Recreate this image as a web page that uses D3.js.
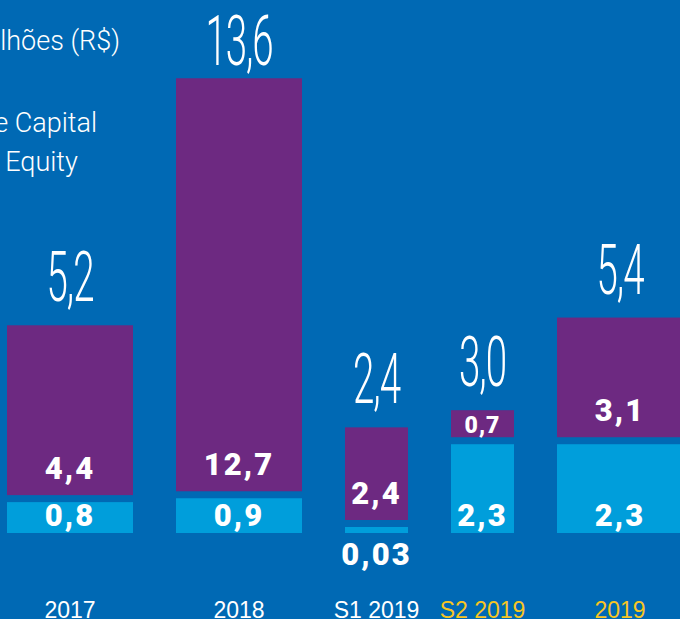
<!DOCTYPE html>
<html><head><meta charset="utf-8">
<script src="https://cdn.jsdelivr.net/npm/d3@7"></script>
<style>
html,body{margin:0;padding:0;background:#0069b4;overflow:hidden;}
svg{display:block;}
</style></head>
<body>
<script>
// ---- data ----
const categories = ["2017", "2018", "S1 2019", "S2 2019", "2019"];
const spans = [2, 2, 1, 1, 2]; // period length in semesters
const privateEquity = [4.4, 12.7, 2.4, 0.7, 3.1];
const ventureCapital = [0.8, 0.9, 0.03, 2.3, 2.3];
const totals = [5.2, 13.6, 2.4, 3.0, 5.4];
const unitLabel = "Em bilhões (R$)";
const seriesNames = ["Venture Capital", "Private Equity"];

// ---- style ----
const W = 680, H = 619;
const C = {bg:"#0069b4", pe:"#6d2981", vc:"#009edb", yellow:"#f7c523", white:"#ffffff"};
const highlighted = new Set(["S2 2019", "2019"]);
const base = 533, stackGap = 7, minH = 6;

const loc = d3.formatLocale({decimal:",", thousands:".", grouping:[3], currency:["R$ ",""]});
const fTot = loc.format(".1f"), fVal = loc.format(".2~f");

const svg = d3.select("body").append("svg").attr("width", W).attr("height", H);
svg.append("rect").attr("width", W).attr("height", H).attr("fill", C.bg);

// x layout: bars proportional to the period length, separated by constant gaps
const gapU = 43 / 63;
const starts = [];
let acc = 0;
spans.forEach((s, i) => { starts.push(acc); acc += s + gapU; });
const totalU = acc - gapU;
const x = d3.scaleLinear().domain([0, totalU]).range([7, 7 + totalU * 63]);

// y: linear per unit, compressed above 5 so the 2018 bar fits
const h = d3.scaleLinear().domain([0, 5, 12.7]).range([0, 193, 413]);

const rows = categories.map((c, i) => {
  const x0 = x(starts[i]), x1 = x(starts[i] + spans[i]);
  const vh = Math.max(h(ventureCapital[i]), minH);
  const vTop = base - vh;
  const pBot = vTop - stackGap;
  const pTop = pBot - h(privateEquity[i]);
  return {c, i, x0, x1, cx:(x0 + x1) / 2, vh, vTop, pBot, pTop,
          pe: privateEquity[i], vc: ventureCapital[i], tot: totals[i]};
});

const g = svg.append("g");
g.selectAll("rect.vc").data(rows).join("rect").attr("class", "vc")
  .attr("x", d => d.x0).attr("width", d => d.x1 - d.x0)
  .attr("y", d => d.vTop).attr("height", d => d.vh).attr("fill", C.vc);
g.selectAll("rect.pe").data(rows).join("rect").attr("class", "pe")
  .attr("x", d => d.x0).attr("width", d => d.x1 - d.x0)
  .attr("y", d => d.pTop).attr("height", d => d.pBot - d.pTop).attr("fill", C.pe);

const boldFont = "Roboto, 'Liberation Sans', Arial, sans-serif";

g.selectAll("text.pev").data(rows).join("text").attr("class", "pev")
  .attr("x", d => d.cx)
  .attr("y", d => (d.pBot - d.pTop) >= 40 ? d.pBot - 16 : d.pBot - 4)
  .attr("text-anchor", "middle").attr("fill", C.white)
  .style("font-family", boldFont).style("font-weight", 900)
  .style("font-size", d => (d.pBot - d.pTop) >= 40 ? "31px" : "23px")
  .style("letter-spacing", d => (d.pBot - d.pTop) >= 40 ? "2px" : "1px")
  .text(d => fVal(d.pe));

g.selectAll("text.vcv").data(rows).join("text").attr("class", "vcv")
  .attr("x", d => d.cx)
  .attr("y", d => d.vh >= 25 ? base - 7 : base + 32)
  .attr("text-anchor", "middle").attr("fill", C.white)
  .style("font-family", boldFont).style("font-weight", 900)
  .style("font-size", "31px").style("letter-spacing", "2px")
  .text(d => fVal(d.vc));

// Totals (light condensed)
g.selectAll("text.tot").data(rows).join("text").attr("class", "tot")
  .attr("transform", d => `translate(${d.cx},${Math.max(d.pTop - 24, 65)}) scale(0.55,1)`)
  .attr("text-anchor", "middle").attr("fill", C.white)
  .style("font-family", "Roboto, 'DejaVu Sans', sans-serif").style("font-weight", 300)
  .style("font-size", "70px").style("letter-spacing", "-2px")
  .text(d => fTot(d.tot));

g.selectAll("text.cat").data(rows).join("text").attr("class", "cat")
  .attr("x", d => d.cx).attr("y", 618)
  .attr("text-anchor", "middle")
  .attr("fill", d => highlighted.has(d.c) ? C.yellow : C.white)
  .style("font-family", "'Liberation Sans', Arial, sans-serif").style("font-weight", 400)
  .style("font-size", "23px")
  .text(d => d.c);

// Unit label and legend (partly outside the crop on the left)
const lightFont = "Roboto, 'Liberation Sans', Arial, sans-serif";
svg.append("text").attr("x", 120).attr("y", 50).attr("text-anchor", "end")
  .attr("fill", C.white).style("font-family", lightFont).style("font-weight", 300)
  .style("font-size", "27px").text(unitLabel);

const leg = svg.append("g");
const legColors = [C.vc, C.pe];
const legTexts = seriesNames.map((n, i) => leg.append("text").attr("y", 132 + i * 39)
    .attr("fill", C.white).style("font-family", lightFont).style("font-weight", 300)
    .style("font-size", "27px").text(n));
const legX = 97 - legTexts[0].node().getComputedTextLength();
legTexts.forEach((t, i) => {
  t.attr("x", legX);
  leg.append("rect").attr("x", legX - 32).attr("y", 132 + i * 39 - 19)
    .attr("width", 20).attr("height", 20).attr("fill", legColors[i]);
});
</script>
</body></html>
